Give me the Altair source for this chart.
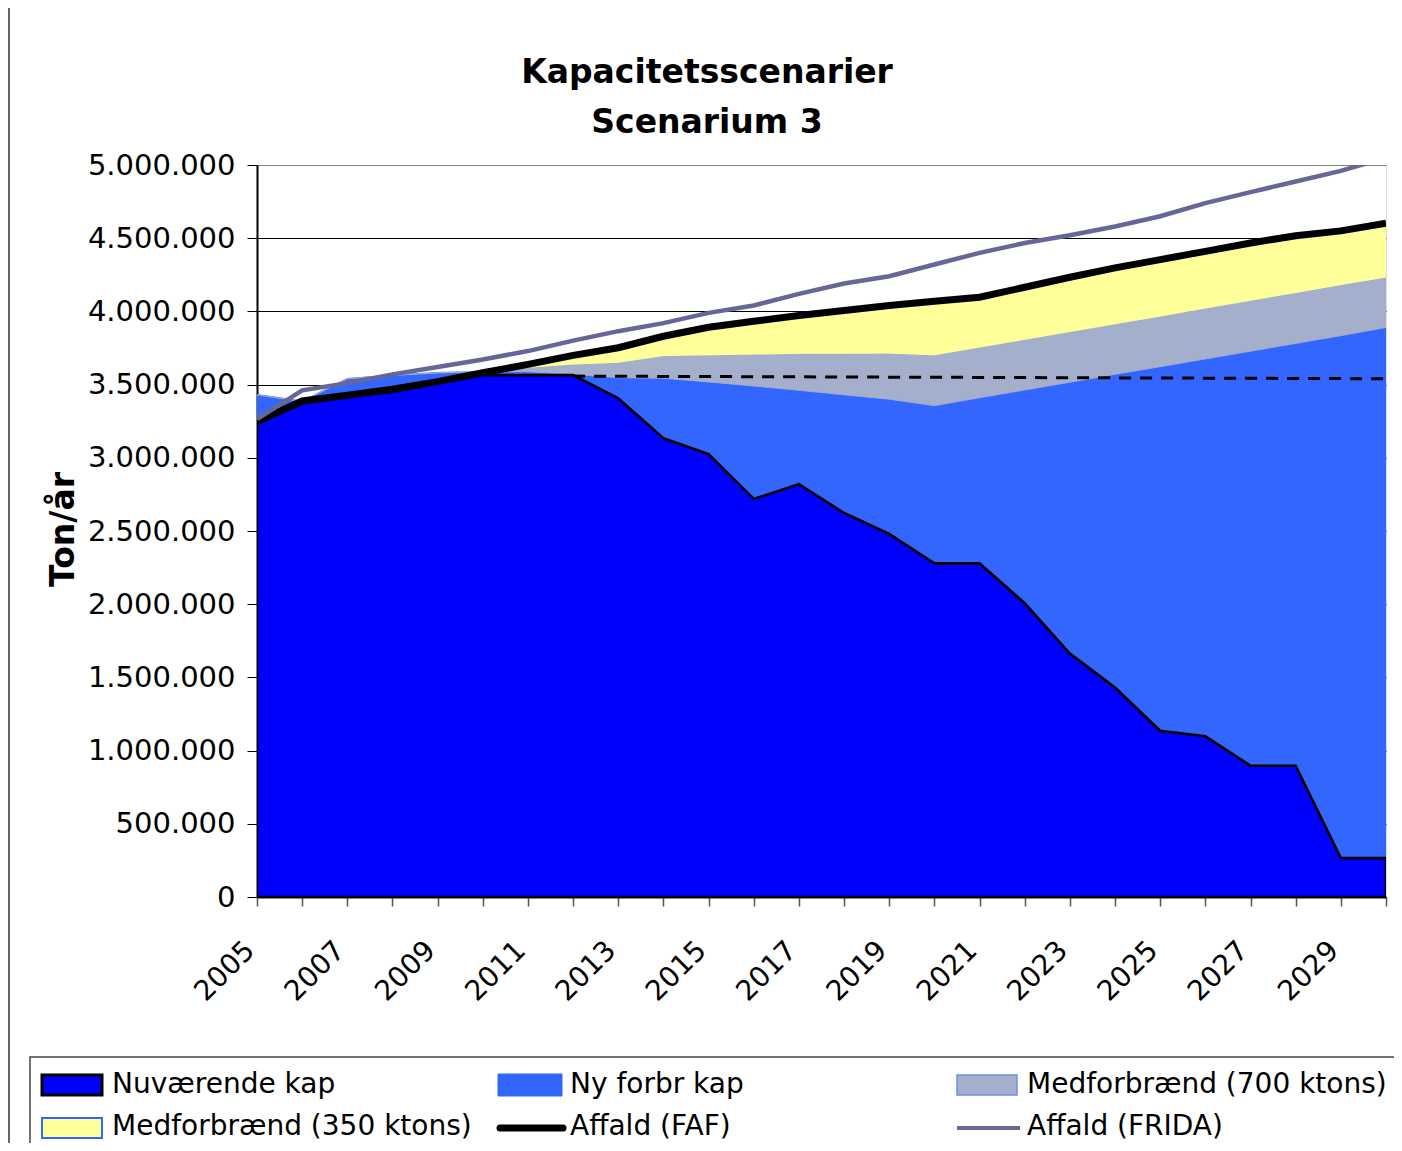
import altair as alt
import pandas as pd

FONT = "DejaVu Sans"

years = list(range(2005, 2031))

# stacked capacity components (ton/year)
nuvaerende = [3235000, 3370000, 3420000, 3450000, 3510000, 3565000, 3565000, 3565000,
              3407000, 3134000, 3025000, 2719000, 2821000, 2623000, 2480000, 2280000,
              2280000, 2007000, 1663000, 1431000, 1136000, 1099000, 897000, 897000,
              266000, 266000]
ny_forbr = [195000, 15000, 120000, 113000, 70000, 23000, 23000, 5000,
            140000, 409000, 493000, 771000, 640000, 807000, 920000, 1076000,
            1130000, 1456000, 1853000, 2139000, 2486000, 2576000, 2831000, 2884000,
            3568000, 3624000]
med700 = [0, 0, 0, 0, 0, 0, 27000, 68000,
          103000, 152000, 182000, 215000, 249000, 280000, 312000, 344000,
          343000, 343000, 344000, 343000, 344000, 345000, 345000, 345000,
          346000, 342000]
med350 = [0, 0, 0, 0, 0, 0, 23000, 62000,
          102000, 135000, 192000, 228000, 262000, 296000, 328000, 370000,
          344000, 359000, 373000, 384000, 388000, 390000, 394000, 391000,
          370000, 371000]

# waste lines
affald_faf = [3245000, 3388000, 3427000, 3468000, 3520000, 3581000, 3638000, 3700000,
              3752000, 3830000, 3892000, 3933000, 3972000, 4006000, 4040000, 4070000,
              4097000, 4165000, 4233000, 4297000, 4354000, 4410000, 4467000, 4517000,
              4550000, 4603000]
affald_frida = [3264000, 3461000, 3510000, 3570000, 3620000, 3672000, 3729000, 3800000,
                3865000, 3920000, 3990000, 4040000, 4120000, 4190000, 4240000, 4320000,
                4400000, 4467000, 4520000, 4580000, 4650000, 4740000, 4815000, 4887000,
                4960000, 5050000]

# dashed reference level
dash_years = list(range(2012, 2031))
dash_level = [3558000, 3557000, 3556000, 3555000, 3554000, 3553000, 3552000, 3551000,
              3550000, 3549000, 3548000, 3547000, 3546000, 3545000, 3544000, 3543000,
              3542000, 3541000, 3540000]

series_names = ["Nuværende kap", "Ny forbr kap", "Medforbrænd (700 ktons)", "Medforbrænd (350 ktons)"]
fills = ["#0000FF", "#3366FF", "#A3AFCB", "#FFFF99"]
strokes = ["#000000", "#3366FF", "#A3AFCB", "#3366FF"]
stroke_w = [2.5, 0, 0, 1.5]

title_lines = ["Kapacitetsscenarier", "Scenarium 3"]
y_title = "Ton/år"

y_ticks = list(range(0, 5000001, 500000))

rows = []
for k, (name, vals) in enumerate(zip(series_names, [nuvaerende, ny_forbr, med700, med350])):
    for yr, v in zip(years, vals):
        rows.append({"year": yr, "value": v, "series": name, "ord": k})
area_df = pd.DataFrame(rows)
nuv_df = pd.DataFrame({"year": years, "value": nuvaerende})
faf_df = pd.DataFrame({"year": years, "value": affald_faf})
frida_df = pd.DataFrame({"year": years, "value": affald_frida})
dash_df = pd.DataFrame({"year": dash_years, "value": dash_level})

x_enc = alt.X(
    "year:Q",
    scale=alt.Scale(domain=[2005, 2030], nice=False, zero=False),
    axis=alt.Axis(
        values=years,
        labelExpr="datum.value % 2 == 1 ? '' + datum.value : ''",
        title=None,
        grid=False,
        tickSize=9,
        tickColor="#555555",
        tickWidth=1.5,
        domainColor="#000000",
        domainWidth=2,
        labelAngle=315,
        labelAlign="right",
        labelBaseline="middle",
        labelFontSize=28,
        labelFont=FONT,
        labelColor="#000000",
        labelPadding=40,
        labelOffset=-7,
        labelOverlap=False,
    ),
)

yscale = alt.Scale(domain=[0, 5000000], nice=False)
y_axis = alt.Axis(
    values=y_ticks,
    labelExpr="replace(format(datum.value, ',d'), regexp(',', 'g'), '.')",
    title=y_title,
    titleFont=FONT,
    titleFontSize=33,
    titleFontWeight="bold",
    titleColor="#000000",
    titleX=-194,
    titleY=364,
    titleAngle=270,
    titleAlign="center",
    titleBaseline="middle",
    grid=True,
    gridColor=alt.condition("datum.value == 5000000", alt.value("#808080"), alt.value("#000000")),
    gridWidth=1,
    tickSize=10,
    tickColor="#000000",
    domainColor="#000000",
    domainWidth=2,
    labelFontSize=29,
    labelFont=FONT,
    labelColor="#000000",
    labelPadding=12,
)

areas = alt.Chart(area_df).mark_area(interpolate="linear", clip=True).encode(
    x=x_enc,
    y=alt.Y("value:Q", stack="zero", scale=yscale, axis=y_axis),
    fill=alt.Fill("series:N", scale=alt.Scale(domain=series_names, range=fills), legend=None),
    stroke=alt.Stroke("series:N", scale=alt.Scale(domain=series_names, range=strokes), legend=None),
    strokeWidth=alt.StrokeWidth("series:N", scale=alt.Scale(domain=series_names, range=stroke_w), legend=None),
    order=alt.Order("ord:Q", sort="ascending"),
)

y_plain = alt.Y("value:Q", scale=yscale, axis=y_axis)

nuv_edge = alt.Chart(nuv_df).mark_line(color="#000000", strokeWidth=2.5, clip=True).encode(x=x_enc, y=y_plain)
dash = alt.Chart(dash_df).mark_line(color="#000000", strokeWidth=3, strokeDash=[12, 9], clip=True).encode(
    x=x_enc, y=y_plain)
faf = alt.Chart(faf_df).mark_line(color="#000000", strokeWidth=7, clip=True).encode(x=x_enc, y=y_plain)
frida = alt.Chart(frida_df).mark_line(color="#666699", strokeWidth=4.5, clip=True).encode(x=x_enc, y=y_plain)

one = pd.DataFrame({"a": [0]})

deco = []
# chart title (two lines, centred on the whole frame)
deco.append(alt.Chart(one).mark_text(
    align="center", baseline="alphabetic", fontSize=33, font=FONT, fontWeight="bold", color="#000000").encode(
    x=alt.value(450), y=alt.value(-82), text=alt.value(title_lines[0])))
deco.append(alt.Chart(one).mark_text(
    align="center", baseline="alphabetic", fontSize=33, font=FONT, fontWeight="bold", color="#000000").encode(
    x=alt.value(450), y=alt.value(-32), text=alt.value(title_lines[1])))

# legend box
deco.append(alt.Chart(one).mark_rect(fill="white", stroke="#444444", strokeWidth=1.5).encode(
    x=alt.value(-227), x2=alt.value(1200), y=alt.value(892), y2=alt.value(1100)))

swatches = [
    (-215, -155, 910, 930, "#0000FF", "#000000", 3),
    (241, 305, 909, 931, "#3366FF", "#3366FF", 1),
    (700, 760, 910, 930, "#A3AFCB", "#6F8FE0", 1.5),
    (-215, -155, 953, 973, "#FFFF99", "#3366FF", 2),
]
for x1, x2, y1, y2, f, s, w in swatches:
    deco.append(alt.Chart(one).mark_rect(fill=f, stroke=s, strokeWidth=w).encode(
        x=alt.value(x1), x2=alt.value(x2), y=alt.value(y1), y2=alt.value(y2)))

deco.append(alt.Chart(one).mark_rule(color="#000000", strokeWidth=7, strokeCap="round").encode(
    x=alt.value(243), x2=alt.value(306), y=alt.value(963)))
deco.append(alt.Chart(one).mark_rule(color="#666699", strokeWidth=4).encode(
    x=alt.value(700), x2=alt.value(763), y=alt.value(963)))

legend_texts = [
    (-145, 920, series_names[0]),
    (313, 920, series_names[1]),
    (770, 920, series_names[2]),
    (-145, 962, series_names[3]),
    (313, 962, "Affald (FAF)"),
    (770, 962, "Affald (FRIDA)"),
]
for tx, ty, label in legend_texts:
    deco.append(alt.Chart(one).mark_text(
        align="left", baseline="middle", fontSize=28, font=FONT, color="#000000").encode(
        x=alt.value(tx), y=alt.value(ty), text=alt.value(label)))

# outer frame line on the left
deco.append(alt.Chart(one).mark_rule(color="#333333", strokeWidth=1.5).encode(
    x=alt.value(-248), y=alt.value(-160), y2=alt.value(1100)))

chart = alt.layer(areas, nuv_edge, dash, faf, frida, *deco).properties(
    width=1129,
    height=732,
    padding={"left": 249, "top": 157, "right": 8, "bottom": 246},
    autosize=alt.AutoSizeParams(type="none"),
).configure_view(stroke="#808080", strokeWidth=2).configure(font=FONT)

chart.save("out.html", embed_options={"renderer": "svg", "actions": False})
